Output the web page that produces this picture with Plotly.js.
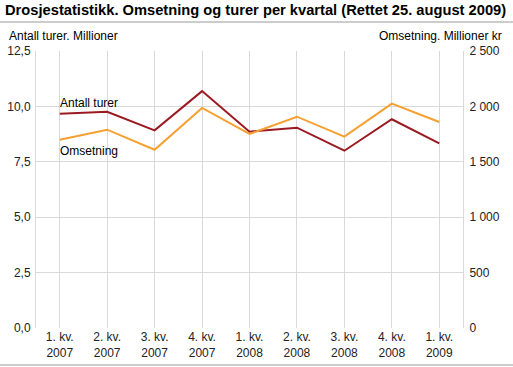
<!DOCTYPE html>
<html>
<head>
<meta charset="utf-8">
<script src="https://cdn.plot.ly/plotly-3.0.1.min.js"></script>
<style>html,body{margin:0;padding:0;background:#fff;}#chart{width:513px;height:367px;}</style>
</head>
<body>
<div id="chart"></div>
<script>
var categories = ["1. kv.<br>2007","2. kv.<br>2007","3. kv.<br>2007","4. kv.<br>2007","1. kv.<br>2008","2. kv.<br>2008","3. kv.<br>2008","4. kv.<br>2008","1. kv.<br>2009"];
var antallTurer = [9.67, 9.76, 8.92, 10.69, 8.86, 9.04, 8.00, 9.42, 8.33];
var omsetning = [1699, 1790, 1609, 1986, 1751, 1907, 1727, 2025, 1859];
var leftTicks = [0, 2.5, 5, 7.5, 10, 12.5];
var rightTicks = [0, 500, 1000, 1500, 2000, 2500];

var font = "Liberation Sans, Arial, sans-serif";
var grid = "#d9d9d9";

var traces = [
  {x: categories, y: omsetning, yaxis: "y2", type: "scatter", mode: "lines",
   line: {color: "#f5a030", width: 2}, hoverinfo: "none", name: "Omsetning"},
  {x: categories, y: antallTurer, yaxis: "y", type: "scatter", mode: "lines",
   line: {color: "#9b1a22", width: 2}, hoverinfo: "none", name: "Antall turer"}
];

var pw = 427;
var layout = {
  width: 513, height: 367,
  margin: {l: 36, r: 50, t: 51, b: 39, pad: 0},
  paper_bgcolor: "#fff", plot_bgcolor: "#fff",
  showlegend: false,
  separators: ", ",
  font: {family: font, size: 12, color: "#000"},
  title: {text: "<b>Drosjestatistikk. Omsetning og turer per kvartal (Rettet 25. august 2009)</b>",
          x: 0, xref: "container", xanchor: "left", y: 0.972, yanchor: "middle",
          pad: {l: 5}, font: {family: font, size: 14.7, color: "#000"}},
  xaxis: {type: "category", range: [-0.5, 8.5], showgrid: true, gridcolor: grid, gridwidth: 1,
          showline: false, zeroline: false, ticks: "", tickfont: {size: 12, color: "#222"}, fixedrange: true},
  yaxis: {range: [0, 12.5], tickvals: leftTicks, tickformat: ".1f", showgrid: true, gridcolor: grid,
          showline: true, linecolor: grid, linewidth: 1, zeroline: false, ticks: "outside",
          ticklen: 2, tickcolor: "rgba(0,0,0,0)", tickfont: {size: 12, color: "#222"}, fixedrange: true},
  yaxis2: {range: [0, 2500], tickvals: rightTicks, tickformat: ",d", overlaying: "y", side: "right",
           showgrid: false, showline: true, linecolor: grid, linewidth: 1, zeroline: false,
           ticks: "outside", ticklen: 3, tickcolor: "rgba(0,0,0,0)", tickfont: {size: 12, color: "#222"}, fixedrange: true},
  annotations: [
    {text: "Antall turer. Millioner", xref: "paper", yref: "paper", x: -29/pw, y: 1.022,
     xanchor: "left", yanchor: "bottom", showarrow: false, font: {size: 12}},
    {text: "Omsetning. Millioner kr", xref: "paper", yref: "paper", x: 1 + 41/pw, y: 1.022,
     xanchor: "right", yanchor: "bottom", showarrow: false, font: {size: 12}},
    {text: "Antall turer", xref: "x", yref: "y", x: 0, y: 10.15, xanchor: "left", xshift: -2,
     showarrow: false, font: {size: 12}},
    {text: "Omsetning", xref: "x", yref: "y", x: 0, y: 8.0, xanchor: "left", xshift: -2,
     showarrow: false, font: {size: 12}}
  ],
  shapes: [
    {type: "line", xref: "paper", yref: "paper", x0: -36/pw, x1: 1 + 50/pw, y0: 306/277, y1: 306/277,
     line: {color: "#cccccc", width: 2}},
    {type: "line", xref: "paper", yref: "paper", x0: -36/pw, x1: 1 + 50/pw, y0: -37/277, y1: -37/277,
     line: {color: "#cccccc", width: 2}}
  ]
};

Plotly.newPlot("chart", traces, layout, {displayModeBar: false, staticPlot: true});
</script>
</body>
</html>
